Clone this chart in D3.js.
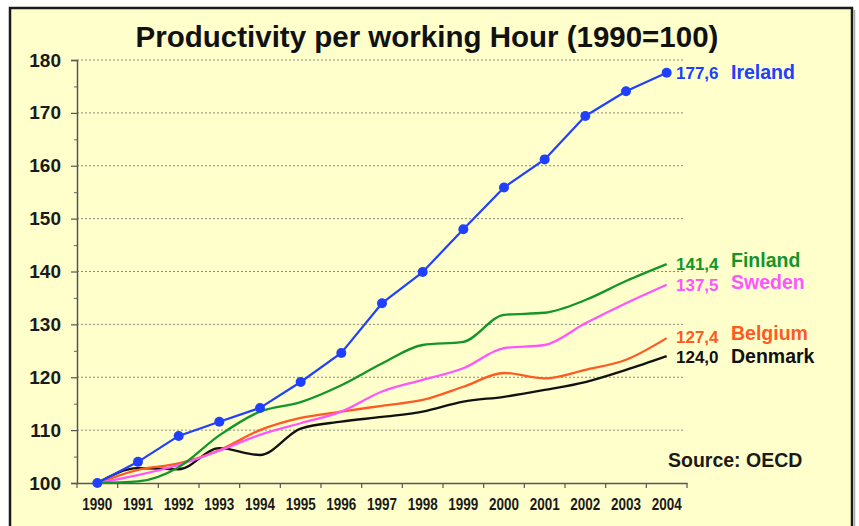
<!DOCTYPE html>
<html>
<head>
<meta charset="utf-8">
<script src="https://cdn.jsdelivr.net/npm/d3@7"></script>
<style>
  html, body { margin: 0; padding: 0; background: #ffffff; }
  svg { display: block; }
  text { font-family: "Liberation Sans", Arial, sans-serif; font-weight: bold; }
</style>
</head>
<body>
<svg id="chart" width="859" height="526"></svg>
<script>
// ---------------- data ----------------
const years = ["1990","1991","1992","1993","1994","1995","1996","1997","1998","1999","2000","2001","2002","2003","2004"];
const ireland = [100, 104.0, 108.9, 111.6, 114.2, 119.1, 124.6, 134.0, 139.9, 148.0, 155.9, 161.2, 169.4, 174.1, 177.6];
const finland = [100, 100.3, 103.0, 109.0, 113.5, 115.3, 118.5, 122.6, 126.1, 126.7, 131.8, 132.2, 134.6, 138.2, 141.4];
const sweden  = [100, 101.5, 103.4, 106.1, 109.1, 111.3, 113.5, 117.3, 119.5, 121.7, 125.5, 126.1, 130.2, 134.0, 137.5];
const belgium = [100, 102.5, 103.7, 106.2, 110.0, 112.3, 113.5, 114.6, 115.7, 118.2, 120.8, 119.8, 121.4, 123.3, 127.4];
const denmark = [100, 102.8, 102.6, 106.6, 105.3, 110.3, 111.6, 112.5, 113.5, 115.4, 116.3, 117.6, 119.1, 121.4, 124.0];
const seriesNames = ["Ireland", "Finland", "Sweden", "Belgium", "Denmark"];
const endLabels = ["177,6", "141,4", "137,5", "127,4", "124,0"];
const yTicks = [100, 110, 120, 130, 140, 150, 160, 170, 180];
const yMinorTicks = [105, 115, 125, 135, 145, 155, 165, 175];
const titleText = "Productivity per working Hour (1990=100)";
const sourceText = "Source: OECD";

// ---------------- styles ----------------
const seriesValues = [ireland, finland, sweden, belgium, denmark];
const colors = ["#2040ff", "#14952a", "#ff55ff", "#ff5a24", "#111111"];
const valueDy = [6, 6, 6, 5, 7];
const nameDy = [6, 3, 4, 2, 7];

const svg = d3.select("#chart");

// background frame
svg.append("rect").attr("x", 10).attr("y", 8).attr("width", 842).attr("height", 530)
  .attr("fill", "#ffffcc").attr("stroke", "#1a1a1a").attr("stroke-width", 2.5);
svg.append("line").attr("x1", 854.5).attr("x2", 854.5).attr("y1", 10).attr("y2", 526)
  .attr("stroke", "#aaaaaa").attr("stroke-width", 1.5);

const x = d3.scaleBand().domain(years).range([77, 687]).padding(0);
const y = d3.scaleLinear().domain([100, 180]).range([483, 60]);
const cx = d => x(d) + x.bandwidth() / 2;

// title
svg.append("text").attr("x", 427).attr("y", 47).attr("text-anchor", "middle")
  .attr("font-size", "29.5px").attr("fill", "#111").text(titleText);

// gridlines
svg.append("g").selectAll("line").data(yTicks.filter(v => v > 100)).join("line")
  .attr("x1", 77).attr("x2", 685).attr("y1", d => y(d)).attr("y2", d => y(d))
  .attr("stroke", "#8c8a78").attr("stroke-width", 1).attr("stroke-dasharray", "2,2");

// y axis
const yAxis = svg.append("g").attr("transform", "translate(77,0)")
  .call(d3.axisLeft(y).tickValues(yTicks).tickSize(6).tickPadding(10).tickFormat(d3.format("d")));
yAxis.select(".domain").attr("stroke", "#555").attr("stroke-width", 1.5);
yAxis.selectAll(".tick line").attr("stroke", "#555").attr("stroke-width", 1.2);
yAxis.selectAll("text").attr("font-size", "19px").attr("fill", "#1a1a1a");
const yMinor = svg.append("g").attr("transform", "translate(77,0)")
  .call(d3.axisLeft(y).tickValues(yMinorTicks).tickSize(3).tickFormat(""));
yMinor.select(".domain").remove();
yMinor.selectAll(".tick line").attr("stroke", "#666");

// x axis
const xAxis = svg.append("g").attr("transform", "translate(0,483)")
  .call(d3.axisBottom(x).tickSize(0).tickPadding(0));
xAxis.select(".domain").attr("stroke", "#555").attr("stroke-width", 1.5);
xAxis.selectAll("text").attr("y", 26.5).attr("dy", 0).attr("font-size", "17px")
  .attr("textLength", 30).attr("lengthAdjust", "spacingAndGlyphs").attr("fill", "#1a1a1a");
xAxis.append("g").selectAll("line").data(years.map(d => x(d)).concat([x.range()[1]])).join("line")
  .attr("x1", d => d).attr("x2", d => d).attr("y1", 0).attr("y2", 5)
  .attr("stroke", "#555").attr("stroke-width", 1.2);

// source
svg.append("text").attr("x", 668).attr("y", 467).attr("font-size", "19.5px")
  .attr("fill", "#1a1a1a").text(sourceText);

// lines
const smooth = d3.line().x((d, i) => cx(years[i])).y(d => y(d)).curve(d3.curveMonotoneX);
const straight = d3.line().x((d, i) => cx(years[i])).y(d => y(d));
const order = [4, 3, 2, 1, 0];
order.forEach(k => {
  svg.append("path").datum(seriesValues[k])
    .attr("d", k === 0 ? straight : smooth)
    .attr("fill", "none").attr("stroke", colors[k]).attr("stroke-width", k === 0 ? 2.2 : 2.3)
    .attr("stroke-linejoin", "round");
});
svg.append("g").selectAll("circle").data(ireland).join("circle")
  .attr("cx", (d, i) => cx(years[i])).attr("cy", d => y(d)).attr("r", 5).attr("fill", colors[0]);

// end labels
seriesValues.forEach((vals, k) => {
  const last = vals[vals.length - 1];
  svg.append("text").attr("x", 676).attr("y", y(last) + valueDy[k]).attr("font-size", "17px")
    .attr("fill", colors[k]).text(endLabels[k]);
  svg.append("text").attr("x", 731).attr("y", y(last) + nameDy[k]).attr("font-size", "19.5px")
    .attr("fill", colors[k]).text(seriesNames[k]);
});
</script>
</body>
</html>
